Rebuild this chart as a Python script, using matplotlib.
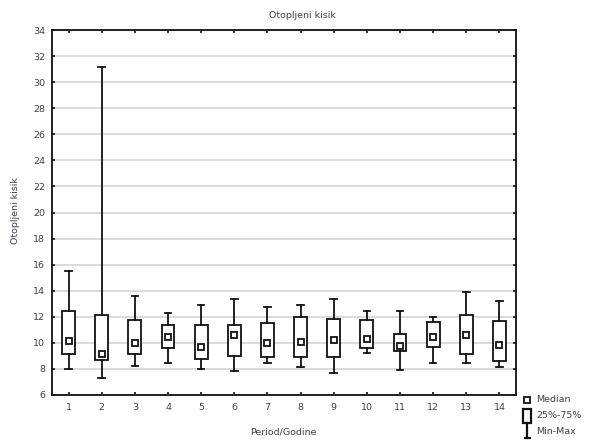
import matplotlib
matplotlib.use("Agg")
import matplotlib.pyplot as plt
from matplotlib.patches import Rectangle

plt.rcParams['font.family'] = ['DejaVu Sans']

# Dissolved oxygen by period: min, quartiles, median, max
periods = [str(i) for i in range(1, 15)]
mins    = [8.02, 7.30, 8.20, 8.45, 8.02, 7.86, 8.43, 8.17, 7.71, 9.20, 7.89, 8.45, 8.45, 8.17]
q1      = [9.17, 8.71, 9.17, 9.63, 8.74, 9.01, 8.89, 8.91, 8.89, 9.60, 9.35, 9.66, 9.17, 8.61]
medians = [10.14, 9.12, 10.01, 10.45, 9.70, 10.58, 10.01, 10.04, 10.19, 10.32, 9.78, 10.47, 10.60, 9.86]
q3      = [12.46, 12.11, 11.73, 11.35, 11.39, 11.39, 11.55, 11.96, 11.83, 11.73, 10.68, 11.57, 12.13, 11.70]
maxs    = [15.53, 31.18, 13.62, 12.26, 12.88, 13.34, 12.73, 12.90, 13.34, 12.46, 12.46, 12.00, 13.90, 13.21]
y_ticks = list(range(6, 35, 2))

title = "Otopljeni kisik"
x_label = "Period/Godine"
y_label = "Otopljeni kisik"
legend_labels = ["Median", "25%-75%", "Min-Max"]

W, H = 589, 441
fig = plt.figure(figsize=(W / 100, H / 100), dpi=100)
ax = fig.add_axes([52 / W, 1 - 395 / H, (516 - 52) / W, (395 - 30) / H])

txt_col = '#404048'
fs = 6.8
lw = 1.3

stats = []
for lab, lo, a, m, b, hi in zip(periods, mins, q1, medians, q3, maxs):
    stats.append(dict(label=lab, whislo=lo, q1=a, med=m, q3=b, whishi=hi, fliers=[]))

pos = list(range(1, len(periods) + 1))
ax.bxp(stats, positions=pos, widths=0.39, capwidths=0.2, patch_artist=True,
       showfliers=False,
       boxprops=dict(facecolor='white', edgecolor='#111111', linewidth=lw),
       whiskerprops=dict(color='#111111', linewidth=lw),
       capprops=dict(color='#111111', linewidth=lw),
       medianprops=dict(linewidth=0),
       zorder=3)
ax.plot(pos, medians, linestyle='none', marker='s', markersize=4.4,
        markerfacecolor='white', markeredgecolor='#111111', markeredgewidth=lw,
        zorder=4)

ax.set_xlim(0.5, 14.5)
ax.set_ylim(6, 34)
ax.set_yticks(y_ticks)
ax.set_xticks(pos)
ax.set_xticklabels(periods)
ax.yaxis.grid(True, color='#d8d8d8', linewidth=1.3, zorder=0)
ax.set_axisbelow(True)
for s in ax.spines.values():
    s.set_linewidth(lw)
    s.set_color('#111111')
ax.tick_params(direction='in', length=2.5, width=1.1, top=True, right=True,
               labelsize=fs, labelcolor=txt_col)
ax.tick_params(axis='y', pad=5.0)
ax.tick_params(axis='x', pad=6.0)

fig.text(302 / W, 1 - 16 / H, title, ha='center', va='center', fontsize=fs, color=txt_col)
fig.text(283 / W, 1 - 432 / H, x_label, ha='center', va='center', fontsize=fs, color=txt_col)
fig.text(16 / W, 1 - 211 / H, y_label, ha='center', va='center', rotation=90,
         fontsize=fs, color=txt_col)

# Legend drawn in figure pixel coordinates
lg = fig.add_axes([0, 0, 1, 1], facecolor='none')
lg.set_xlim(0, W)
lg.set_ylim(H, 0)
lg.axis('off')
lg.plot([527], [399.5], linestyle='none', marker='s', markersize=4.2,
        markerfacecolor='white', markeredgecolor='#111111', markeredgewidth=lw)
lg.add_patch(Rectangle((523, 409), 8, 14, facecolor='white', edgecolor='#111111', linewidth=1.6))
lg.plot([527, 527], [423, 437.5], color='#111111', linewidth=1.6)
lg.plot([524.5, 529.5], [437.5, 437.5], color='#111111', linewidth=1.6)
for yy, lab in zip([399.5, 415, 431], legend_labels):
    lg.text(536, yy, lab, ha='left', va='center', fontsize=fs, color=txt_col)

fig.savefig('out.png', dpi=100)
